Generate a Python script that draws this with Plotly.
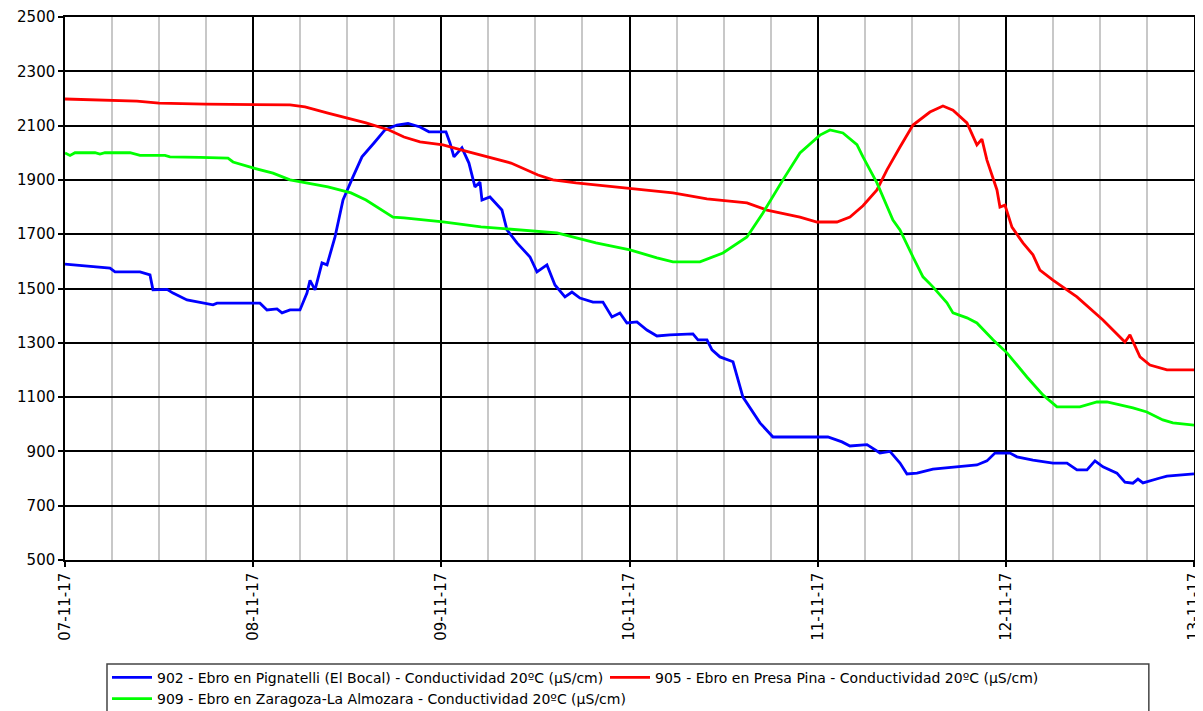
import pandas as pd
import plotly.graph_objects as go

START = "2017-11-07 00:00"

# 902 - Ebro en Pignatelli (El Bocal): hours since start, value
hours_902 = [0, 2.81, 5.74, 6.38, 9.57, 10.84, 11.22, 13.01, 13.78, 15.56, 16.84, 18.88, 19.39,
             24.87, 25.76, 27.04, 27.68, 28.70, 29.97, 30.86, 31.25, 31.89, 32.78, 33.42, 34.44,
             35.46, 36.73, 37.88, 39.41, 40.81, 42.34, 43.75, 45.28, 46.42, 48.59, 49.10, 49.61,
             50.63, 51.52, 52.29, 52.93, 53.18, 54.20, 55.73, 56.37, 57.65, 59.31, 60.20, 61.47,
             62.49, 63.77, 64.66, 65.68, 67.34, 68.61, 69.76, 70.78, 71.67, 72.95, 74.22, 75.50,
             77.16, 80.09, 80.73, 81.88, 82.52, 83.54, 85.20, 86.47, 88.64, 90.30, 97.31, 99.10,
             100.12, 102.29, 103.95, 105.22, 106.50, 107.39, 108.67, 110.70, 114.15, 116.31,
             117.59, 118.61, 120.53, 121.42, 123.46, 126.01, 127.80, 129.07, 130.35, 131.37,
             132.39, 134.17, 135.19, 136.21, 136.85, 137.49, 139.66, 140.55, 144]
values_902 = [1590, 1583, 1575, 1561, 1561, 1550, 1495, 1497, 1483, 1458, 1450, 1440, 1446,
              1446, 1421, 1425, 1410, 1421, 1421, 1483, 1530, 1495, 1594, 1587, 1690,
              1826, 1911, 1985, 2036, 2084, 2102, 2108, 2095, 2077, 2077, 2036, 1985,
              2018, 1962, 1874, 1892, 1826, 1837, 1789, 1716, 1668, 1616, 1561, 1587,
              1513, 1469, 1487, 1465, 1450, 1450, 1395, 1410, 1373, 1377, 1347, 1325,
              1329, 1333, 1311, 1311, 1274, 1248, 1230, 1100, 1005, 953, 953, 935,
              920, 925, 894, 900, 857, 817, 820, 835, 843, 850,
              865, 894, 894, 880, 868, 857, 857, 832, 832, 865,
              843, 820, 787, 783, 798, 784, 802, 809, 817]

# 905 - Ebro en Presa Pina
hours_905 = [0, 9.18, 11.99, 17.86, 28.70, 30.61, 33.54, 38.39, 41.32, 43.24, 45.28, 48.21,
             50.63, 53.06, 56.88, 60.33, 62.24, 65.17, 70.15, 72.06, 77.54, 81.88, 86.98,
             89.53, 93.74, 95.91, 98.46, 100.12, 101.78, 103.56, 104.84, 106.50, 108.16,
             110.32, 111.98, 113.26, 115.04, 116.31, 116.95, 117.59, 118.87, 119.25, 119.89,
             120.78, 122.18, 123.46, 124.35, 126.01, 129.07, 132.39, 135.19, 135.83, 137.11,
             138.38, 140.55, 144]
values_905 = [2198, 2190, 2183, 2179, 2176, 2169, 2146, 2110, 2084, 2058, 2040, 2029,
              2010, 1992, 1962, 1918, 1900, 1889, 1874, 1870, 1852, 1830, 1815,
              1789, 1763, 1745, 1745, 1763, 1805, 1863, 1937, 2021, 2102,
              2150, 2172, 2157, 2110, 2029, 2050, 1973, 1863, 1800, 1807,
              1726, 1668, 1624, 1568, 1531, 1469, 1384, 1303, 1329, 1248,
              1218, 1200, 1200]

# 909 - Ebro en Zaragoza-La Almozara
hours_909 = [0, 0.64, 1.28, 3.83, 4.46, 5.10, 8.29, 9.57, 12.75, 13.39, 17.22, 20.79, 21.43,
             23.98, 26.53, 28.70, 33.54, 36.48, 38.39, 41.83, 43.24, 48.21, 53.06, 57.90,
             62.75, 67.72, 72.06, 75.50, 77.54, 80.99, 83.92, 86.98, 89.02, 91.57, 93.74,
             96.29, 97.57, 99.22, 101.01, 101.78, 103.56, 105.60, 106.50, 108.16, 109.43,
             110.70, 112.49, 113.26, 115.04, 116.31, 118.36, 120.14, 122.69, 124.73, 126.52,
             129.45, 131.62, 132.90, 136.21, 137.99, 140.03, 141.31, 144]
values_909 = [1999, 1990, 2000, 2000, 1995, 2000, 2000, 1990, 1990, 1985, 1983, 1980, 1966,
              1944, 1925, 1900, 1874, 1852, 1826, 1763, 1760, 1745, 1727, 1716,
              1705, 1668, 1642, 1613, 1598, 1598, 1631, 1690, 1778, 1900, 1999,
              2065, 2084, 2073, 2030, 1985, 1889, 1752, 1716, 1616, 1543,
              1506, 1447, 1410, 1392, 1373, 1311, 1263, 1174, 1108, 1064,
              1064, 1082, 1082, 1060, 1045, 1016, 1005, 997]

names = ["902 - Ebro en Pignatelli (El Bocal) - Conductividad 20ºC (µS/cm)",
         "905 - Ebro en Presa Pina - Conductividad 20ºC (µS/cm)",
         "909 - Ebro en Zaragoza-La Almozara - Conductividad 20ºC (µS/cm)"]
colors = ["#0000ff", "#ff0000", "#00ff00"]

day_ticks = pd.date_range("2017-11-07", "2017-11-13", freq="D")
day_labels = [d.strftime("%d-%m-%y") for d in day_ticks]

y_ticks = list(range(500, 2501, 200))


def to_dates(hours):
    return pd.Timestamp(START) + pd.to_timedelta(hours, unit="h")


fig = go.Figure()
for h, v, n, c in zip([hours_902, hours_905, hours_909],
                      [values_902, values_905, values_909], names, colors):
    fig.add_trace(go.Scatter(x=to_dates(h), y=v, name=n, mode="lines",
                             line=dict(color=c, width=2.8)))

# legend frame (reference box spans x 107..1149 px, top at 664 px)
fig.add_shape(type="rect", xref="paper", yref="paper",
              x0=0.0372, x1=0.960, y0=-0.30, y1=-0.1915,
              line=dict(color="#444444", width=1.5), fillcolor="rgba(0,0,0,0)", layer="above")

# page body has an 8px margin, so the figure is 8px smaller and shifted
fig.update_layout(
    width=1195, height=703,
    margin=dict(l=57, r=9, t=9, b=151, autoexpand=False),
    plot_bgcolor="white", paper_bgcolor="white",
    font=dict(family="DejaVu Sans", size=15, color="#000000"),
    showlegend=True,
    legend=dict(orientation="h", x=0.0372, xanchor="left", y=-0.1875, yanchor="top",
                borderwidth=0, bgcolor="rgba(0,0,0,0)",
                font=dict(family="DejaVu Sans", size=14, color="#000000"),
                entrywidth=443, entrywidthmode="pixels", tracegroupgap=0,
                itemwidth=40, traceorder="normal"),
)

fig.update_xaxes(
    type="date", automargin=False,
    range=[day_ticks[0], day_ticks[-1]],
    tickvals=day_ticks, ticktext=day_labels, tickangle=-90,
    ticks="outside", ticklen=5, tickcolor="#000000", tickwidth=1.5,
    showgrid=True, gridcolor="#000000", gridwidth=1.5,
    minor=dict(dtick=6 * 3600 * 1000, showgrid=True, gridcolor="#c8c8c8", gridwidth=1.5,
               ticks=""),
    showline=True, linecolor="#000000", linewidth=1.5, mirror=True,
    zeroline=False, tickfont=dict(size=15),
)
fig.update_yaxes(
    automargin=False,
    range=[500, 2500], tickvals=y_ticks,
    ticks="outside", ticklen=5, tickcolor="#000000", tickwidth=1.5,
    showgrid=True, gridcolor="#000000", gridwidth=1.5,
    showline=True, linecolor="#000000", linewidth=1.5, mirror=True,
    zeroline=False, tickfont=dict(size=15),
)

fig.write_html("out.html")
